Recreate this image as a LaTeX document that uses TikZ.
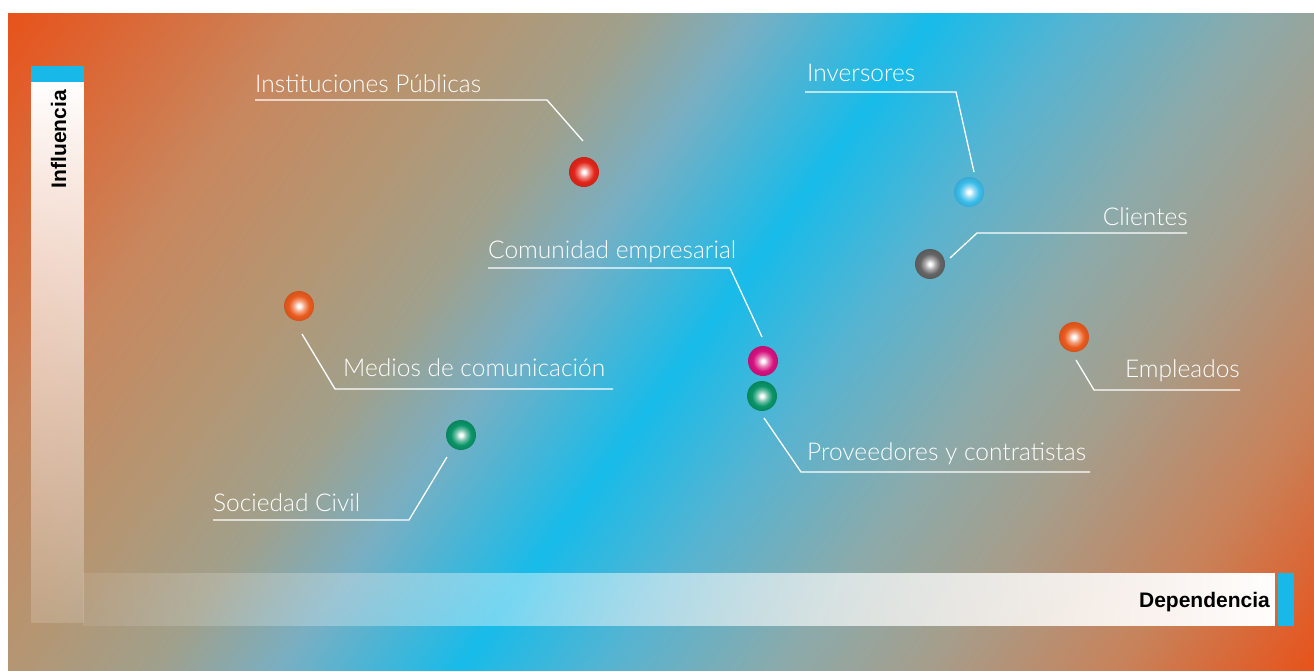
\documentclass[tikz,border=0pt]{standalone}
\usepackage{fontspec}
\setmainfont{Liberation Sans}
\newfontfamily\lightf{Lato}[UprightFont=* Light]
\usetikzlibrary{fadings}
\definecolor{bgor}{RGB}{232,82,26}
\definecolor{bga}{RGB}{200,135,94}
\definecolor{bgb}{RGB}{180,150,115}
\definecolor{bgc}{RGB}{160,160,140}
\definecolor{bgd}{RGB}{120,175,195}
\definecolor{bgbl}{RGB}{24,187,233}
\definecolor{bge}{RGB}{85,180,210}
\definecolor{bgf}{RGB}{140,170,170}
\definecolor{bgg}{RGB}{165,158,140}
\definecolor{bgh}{RGB}{200,130,90}
\definecolor{capbl}{RGB}{24,185,232}
\definecolor{cred}{RGB}{226,38,26}
\definecolor{clblue}{RGB}{59,189,235}
\definecolor{cgray}{RGB}{100,100,100}
\definecolor{corange}{RGB}{234,91,30}
\definecolor{cmagenta}{RGB}{214,18,127}
\definecolor{cgreen}{RGB}{10,148,104}
\pgfdeclarehorizontalshading{bgsh}{100bp}{color(0bp)=(bgor); color(25bp)=(bgor); color(33.5bp)=(bga); color(38.5bp)=(bgb); color(42.5bp)=(bgc); color(46bp)=(bgd); color(51bp)=(bgbl); color(55bp)=(bge); color(60bp)=(bgf); color(64bp)=(bgg); color(69.5bp)=(bgh); color(75bp)=(bgor); color(100bp)=(bgor)}
\colorlet{ballc}{red}
\pgfdeclareradialshading[ballc]{myball}{\pgfpoint{0bp}{0bp}}{color(0bp)=(white); color(2bp)=(white); color(9bp)=(ballc!55!white); color(17bp)=(ballc); color(25bp)=(ballc!90!black); color(50bp)=(ballc!90!black)}
\tikzfading[name=vfade, top color=transparent!0, bottom color=transparent!85]
\tikzfading[name=hfade, left color=transparent!92, right color=transparent!0]
\tikzset{
  ball/.style={circle, inner sep=0pt, minimum size=30pt, shade, shading=myball},
  ballcol/.code={\colorlet{ballc}{#1}},
  lbl/.style={font=\lightf\fontsize{24.5}{28}\selectfont, text=white, inner sep=0pt},
  lead/.style={draw=white, line width=1.3pt},
  axislbl/.style={font=\bfseries\fontsize{21}{24}\selectfont, text=black, inner sep=0pt},
}
\begin{document}
\begin{tikzpicture}[x=1pt,y=-1pt]
\useasboundingbox (0,0) rectangle (1314,670);
% background
\begin{scope}
\clip (8,13) rectangle (1314,670);
\begin{scope}[transform canvas={rotate around={-36:(661,341.5)}}]
\shade[shading=bgsh] (-60.5,-418.5) rectangle (1382.5,1101.5);
\end{scope}
\end{scope}
% axes
\fill[white, path fading=vfade] (31,82) rectangle (84,623);
\fill[capbl] (31,66) rectangle (84,82);
\fill[white, path fading=hfade] (84,573) rectangle (1278,626);
\fill[capbl] (1278,573) rectangle (1294,626);
\node[axislbl, rotate=90, anchor=base east] (infl) at (66,90) {Influencia};
\node[axislbl, anchor=base east] (dep) at (1270,607) {Dependencia};
% balls
\node[ball, ballcol=cred] (ip) at (584,172) {};
\node[ball, ballcol=clblue] (inv) at (969,192) {};
\node[ball, ballcol=cgray] (cli) at (930,264) {};
\node[ball, ballcol=corange] (emp) at (1074,337) {};
\node[ball, ballcol=cmagenta] (com) at (763,361) {};
\node[ball, ballcol=cgreen] (prov) at (762,396) {};
\node[ball, ballcol=corange] (med) at (299,306) {};
\node[ball, ballcol=cgreen] (soc) at (461,435) {};
% labels
\node[lbl, anchor=base west] (lip) at (255,92) {Instituciones Públicas};
\node[lbl, anchor=base west] (linv) at (807,81) {Inversores};
\node[lbl, anchor=base east] (lcli) at (1188,225) {Clientes};
\node[lbl, anchor=base west] (lcom) at (488,258) {Comunidad empresarial};
\node[lbl, anchor=base west] (lmed) at (343,376) {Medios de comunicación};
\node[lbl, anchor=base east] (lemp) at (1240,377) {Empleados};
\node[lbl, anchor=base west] (lprov) at (807,460) {Proveedores y contratistas};
\node[lbl, anchor=base west] (lsoc) at (213,511) {Sociedad Civil};
% leader coordinates
\coordinate (eip) at (583,141); \coordinate (kip) at (547,100); \coordinate (fip) at (255,100);
\coordinate (einv) at (974,172); \coordinate (kinv) at (956,92); \coordinate (finv) at (805,92);
\coordinate (ecli) at (950,258); \coordinate (kcli) at (977,233); \coordinate (fcli) at (1187,233);
\coordinate (ecom) at (762,337); \coordinate (kcom) at (730,268); \coordinate (fcom) at (488,268);
\coordinate (emed) at (302,334); \coordinate (kmed) at (335,389); \coordinate (fmed) at (613,389);
\coordinate (eemp) at (1076,360); \coordinate (kemp) at (1094,390); \coordinate (femp) at (1240,390);
\coordinate (eprov) at (764,418); \coordinate (kprov) at (801,472); \coordinate (fprov) at (1090,472);
\coordinate (esoc) at (447,457); \coordinate (ksoc) at (409,520); \coordinate (fsoc) at (213,520);
\foreach \n in {ip,inv,cli,com,med,emp,prov,soc}{
  \draw[lead] (e\n) -- (k\n) -- (f\n);
}
\end{tikzpicture}
\end{document}
